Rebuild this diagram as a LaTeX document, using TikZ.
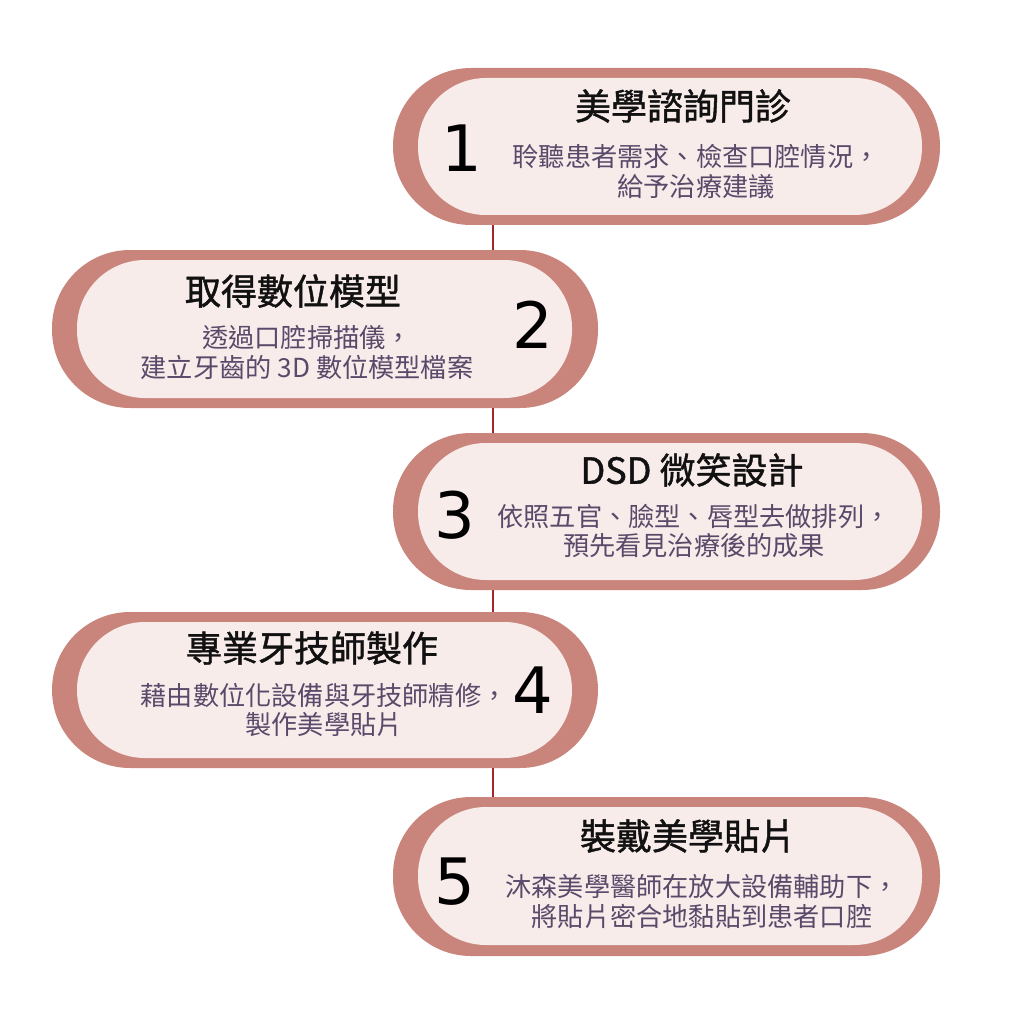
\documentclass[tikz,border=0pt]{standalone}
\usepackage{fontspec}
\newfontfamily\cjk{Noto Sans CJK TC}
\newfontfamily\cjkt{Noto Sans CJK TC}[FakeBold=1.2]
\newfontfamily\numfont{DejaVu Sans}
\definecolor{outerc}{HTML}{C9857C}
\definecolor{innerc}{HTML}{F8ECEB}
\definecolor{linec}{HTML}{A0282A}
\definecolor{titlec}{HTML}{111111}
\definecolor{descc}{HTML}{5A4A6A}
\tikzset{
  pillout/.style={draw=none, fill=outerc, rectangle, rounded corners=78pt, inner sep=0pt, minimum width=547pt, minimum height=157pt},
  pillin/.style={draw=none, fill=innerc, rectangle, rounded corners=68pt, inner sep=0pt, minimum height=137pt},
  conn/.style={draw=linec, line width=2pt},
  titletext/.style={font=\cjkt\fontsize{36}{40}\selectfont, text=titlec, inner sep=0pt},
  desctext/.style={font=\cjk\fontsize{26.2}{29.5}\selectfont, text=descc, align=center, inner sep=0pt},
  numtext/.style={font=\numfont\fontsize{64}{70}\selectfont, text=black, inner sep=0pt}
}
\begin{document}
\begin{tikzpicture}[x=1pt,y=-1pt]
\useasboundingbox[fill=white] (0,0) rectangle (1024,1024);
\coordinate (spine) at (493,0);
% outer pills
\node[pillout] (p1) at (666.5,146.5) {};
\node[pillout, minimum width=546pt, minimum height=158pt] (p2) at (325,329) {};
\node[pillout] (p3) at (666.5,511.5) {};
\node[pillout, minimum width=546pt, minimum height=156pt] (p4) at (325,690) {};
\node[pillout, minimum height=159pt] (p5) at (666.5,876.5) {};
% connectors
\draw[conn] (p1.south -| spine) -- (p2.north -| spine);
\draw[conn] (p2.south -| spine) -- (p3.north -| spine);
\draw[conn] (p3.south -| spine) -- (p4.north -| spine);
\draw[conn] (p4.south -| spine) -- (p5.north -| spine);
% inner pills
\node[pillin, minimum width=504pt] (q1) at (670,146.5) {};
\node[pillin, minimum width=495pt, minimum height=138pt] (q2) at (324.5,329) {};
\node[pillin, minimum width=504pt] (q3) at (670,511.5) {};
\node[pillin, minimum width=495pt, minimum height=136pt] (q4) at (324.5,690) {};
\node[pillin, minimum width=504pt, minimum height=138pt] (q5) at (670,876) {};
% titles
\node[titletext] (t1) at (683,106) {美學諮詢門診};
\node[titletext] (t2) at (293,291) {取得數位模型};
\node[titletext] (t3) at (692,470) {DSD 微笑設計};
\node[titletext] (t4) at (312,648) {專業牙技師製作};
\node[titletext] (t5) at (688,836) {裝戴美學貼片};
% descriptions
\node[desctext] (d1) at (696,171.5) {聆聽患者需求、檢查口腔情況，\\給予治療建議};
\node[desctext] (d2) at (307,352.5) {透過口腔掃描儀，\\建立牙齒的 3D 數位模型檔案};
\node[desctext] (d3) at (694,531) {依照五官、臉型、唇型去做排列，\\預先看見治療後的成果};
\node[desctext] (d4) at (324,710) {藉由數位化設備與牙技師精修，\\製作美學貼片};
\node[desctext] (d5) at (702,901.5) {沐森美學醫師在放大設備輔助下，\\將貼片密合地黏貼到患者口腔};
% numbers
\node[numtext] (n1) at (462,148) {1};
\node[numtext] (n2) at (533,325) {2};
\node[numtext] (n3) at (455,515) {3};
\node[numtext] (n4) at (533,690) {4};
\node[numtext] (n5) at (455,882) {5};
\end{tikzpicture}
\end{document}
